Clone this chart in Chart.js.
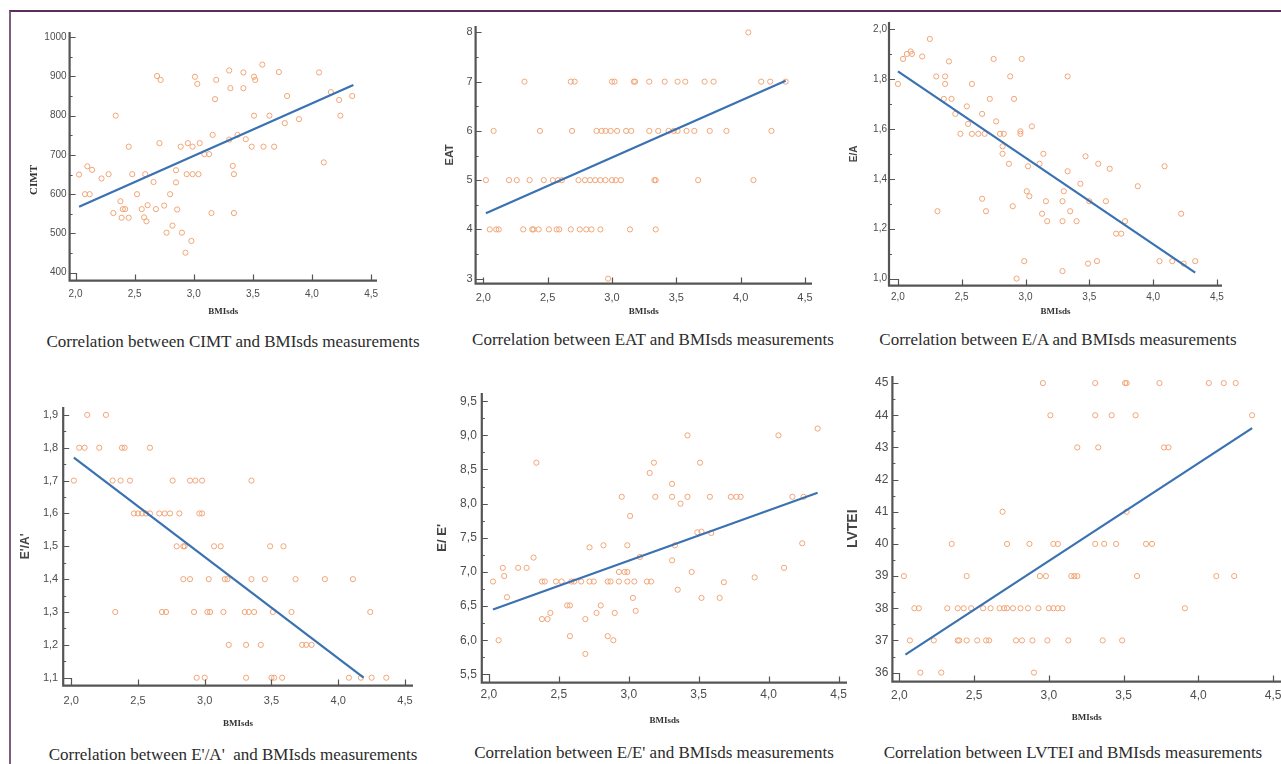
<!DOCTYPE html>
<html>
<head>
<meta charset="utf-8">
<title>BMIsds correlations</title>
<script src="https://cdn.jsdelivr.net/npm/chart.js"></script>
<style>
  body { margin: 0; background: #fff; }
  #page { position: relative; width: 1281px; height: 764px; overflow: hidden; background: #fff; }
  #frame { position: absolute; left: 9px; top: 10px; width: 1300px; height: 800px;
           border-top: 2px solid #5a2d5c; border-left: 2px solid #7d5c7f; }
  canvas { position: absolute; }
  .cap { position: absolute; width: 520px; line-height: 20px; text-align: center; white-space: pre;
         font-family: "Liberation Serif", "Times New Roman", serif; font-size: 17px; color: #2b2b2b; }
</style>
</head>
<body>
<div id="page"><div id="frame"></div></div>
<script>
// every panel has BMIsds on the x axis
const bmiTicks = [2.0, 2.5, 3.0, 3.5, 4.0, 4.5];

// CIMT vs BMIsds
const cimtBmi = [2.03,2.08,2.12,2.10,2.14,2.22,2.28,2.34,2.32,2.38,2.40,2.42,2.39,2.45,2.45,2.48,2.52,2.56,2.59,2.58,
  2.60,2.61,2.66,2.68,2.69,2.72,2.71,2.75,2.77,2.80,2.82,2.85,2.85,2.86,2.89,2.90,2.94,2.99,3.04,2.93,
  2.95,2.99,2.98,3.01,3.03,3.05,3.09,3.13,3.15,3.16,3.18,3.19,3.30,3.30,3.31,3.33,3.34,3.34,3.37,3.42,
  3.42,3.44,3.49,3.51,3.52,3.51,3.58,3.59,3.64,3.68,3.72,3.77,3.79,3.89,4.06,4.10,4.16,4.23,4.24,4.34];
const cimtVal = [650,600,600,671,662,640,651,800,552,582,562,562,540,540,721,651,600,562,651,541,
  531,572,631,562,901,891,730,571,502,600,520,630,661,561,721,502,651,651,651,451,
  730,721,481,899,881,730,702,702,552,751,842,891,739,915,870,672,651,552,751,910,
  870,740,721,899,891,800,930,721,800,721,911,781,850,791,910,681,860,840,800,850];
const cimtTicks = [400, 500, 600, 700, 800, 900, 1000];
const cimtFitX = [2.03, 4.35];
const cimtFitY = [568, 878];

// EAT vs BMIsds (values sit on whole numbers, listed per level)
const eatLevels = [8, 7, 6, 5, 4, 3];
const eatBmiByLevel = [
  [4.06],
  [2.32,2.68,2.71,3.00,3.02,3.17,3.18,3.29,3.41,3.51,3.57,3.72,3.79,4.16,4.23,4.35],
  [2.08,2.44,2.69,2.88,2.92,2.95,2.99,3.04,3.11,3.15,3.29,3.36,3.44,3.48,3.51,3.58,3.64,3.76,3.89,4.24],
  [2.02,2.20,2.26,2.36,2.47,2.54,2.58,2.61,2.74,2.79,2.83,2.87,2.91,2.95,3.00,3.03,3.07,3.33,3.34,3.67,4.10],
  [2.05,2.10,2.12,2.31,2.38,2.39,2.43,2.51,2.57,2.59,2.68,2.75,2.80,2.84,2.91,3.14,3.34],
  [2.97]
];
const eatTicks = [3, 4, 5, 6, 7, 8];
const eatFitX = [2.02, 4.35];
const eatFitY = [4.33, 7.02];

// E/A vs BMIsds
const eaBmi = [2.00,2.04,2.07,2.10,2.11,2.19,2.25,2.30,2.31,2.37,2.37,2.36,2.40,2.42,2.45,2.49,2.54,2.55,2.58,2.58,
  2.63,2.68,2.66,2.66,2.69,2.72,2.75,2.77,2.80,2.83,2.82,2.82,2.87,2.88,2.90,2.91,2.93,2.96,2.96,2.97,
  2.99,3.01,3.03,3.02,3.05,3.11,3.13,3.14,3.16,3.17,3.29,3.30,3.29,3.29,3.33,3.33,3.35,3.40,3.43,3.47,
  3.49,3.50,3.56,3.57,3.63,3.66,3.71,3.75,3.78,3.88,4.05,4.09,4.15,4.22,4.24,4.33];
const eaVal = [1.78,1.88,1.90,1.91,1.90,1.89,1.96,1.81,1.27,1.81,1.78,1.72,1.87,1.72,1.66,1.58,1.69,1.62,1.78,1.58,
  1.58,1.58,1.66,1.32,1.27,1.72,1.88,1.63,1.58,1.58,1.53,1.50,1.46,1.81,1.29,1.72,1.00,1.59,1.58,1.88,
  1.07,1.35,1.33,1.45,1.61,1.46,1.26,1.50,1.31,1.23,1.31,1.35,1.23,1.03,1.43,1.81,1.27,1.23,1.38,1.49,
  1.06,1.31,1.07,1.46,1.31,1.44,1.18,1.18,1.23,1.37,1.07,1.45,1.07,1.26,1.06,1.07];
const eaTicks = [1.0, 1.2, 1.4, 1.6, 1.8, 2.0];
const eaFitX = [2.00, 4.33];
const eaFitY = [1.83, 1.024];

// E'/A' vs BMIsds (listed per level)
const epapLevels = [1.9, 1.8, 1.7, 1.6, 1.5, 1.4, 1.3, 1.2, 1.1];
const epapBmiByLevel = [
  [2.12,2.26],
  [2.06,2.10,2.21,2.38,2.40,2.59],
  [2.02,2.31,2.37,2.44,2.76,2.89,2.93,2.98,3.35],
  [2.47,2.50,2.53,2.56,2.59,2.66,2.70,2.74,2.81,2.96,2.98],
  [2.79,2.84,2.85,3.07,3.12,3.49,3.59],
  [2.84,2.89,3.03,3.15,3.17,3.35,3.45,3.68,3.90,4.11],
  [2.33,2.68,2.71,2.92,3.02,3.04,3.14,3.30,3.33,3.37,3.51,3.65,4.24],
  [3.18,3.31,3.42,3.73,3.76,3.80],
  [2.94,3.00,3.31,3.50,3.52,3.58,4.08,4.17,4.25,4.36]
];
const epapTicks = [1.1, 1.2, 1.3, 1.4, 1.5, 1.6, 1.7, 1.8, 1.9];
const epapFitX = [2.02, 4.19];
const epapFitY = [1.77, 1.10];

// E/E' vs BMIsds
const eeBmi = [2.03,2.07,2.10,2.11,2.13,2.21,2.27,2.32,2.34,2.38,2.40,2.38,2.42,2.44,2.48,2.52,2.56,2.58,2.58,2.59,
  2.61,2.66,2.69,2.69,2.72,2.72,2.75,2.77,2.80,2.82,2.85,2.85,2.87,2.89,2.90,2.93,2.93,2.95,2.97,2.99,
  2.99,2.99,3.01,3.03,3.04,3.05,3.08,3.13,3.16,3.15,3.18,3.19,3.31,3.31,3.31,3.33,3.35,3.37,3.42,3.42,
  3.45,3.49,3.52,3.51,3.52,3.58,3.59,3.65,3.68,3.73,3.77,3.80,3.90,4.07,4.11,4.17,4.24,4.25,4.35];
const eeVal = [6.86,6.00,7.06,6.94,6.63,7.06,7.06,7.21,8.60,6.86,6.86,6.31,6.31,6.40,6.86,6.86,6.51,6.51,6.06,6.86,
  6.86,6.86,6.31,5.80,7.36,6.86,6.86,6.40,6.51,7.39,6.06,6.86,6.86,6.00,6.40,7.00,6.86,8.10,7.00,7.00,
  7.39,6.86,7.82,6.62,6.86,6.43,7.22,6.86,6.86,8.45,8.60,8.10,8.29,8.10,7.17,7.39,6.74,8.00,9.00,8.10,
  7.00,7.58,7.59,8.60,6.62,8.10,7.57,6.62,6.85,8.10,8.10,8.10,6.92,9.00,7.06,8.10,7.42,8.10,9.10];
const eeTicks = [5.5, 6.0, 6.5, 7.0, 7.5, 8.0, 8.5, 9.0, 9.5];
const eeFitX = [2.03, 4.35];
const eeFitY = [6.45, 8.16];

// LVTEI vs BMIsds (listed per level)
const lvteiLevels = [45, 44, 43, 41, 40, 39, 38, 37, 36];
const lvteiBmiByLevel = [
  [2.96,3.31,3.51,3.52,3.74,4.07,4.17,4.25],
  [3.01,3.31,3.42,3.58,4.36],
  [3.19,3.33,3.77,3.80],
  [2.69,3.52],
  [2.35,2.72,2.87,3.03,3.06,3.31,3.37,3.45,3.65,3.69],
  [2.03,2.45,2.94,2.98,3.15,3.17,3.19,3.59,4.12,4.24],
  [2.10,2.13,2.32,2.39,2.43,2.48,2.56,2.61,2.67,2.70,2.72,2.76,2.81,2.86,2.93,3.00,3.03,3.06,3.09,3.91],
  [2.07,2.23,2.39,2.40,2.45,2.52,2.58,2.60,2.78,2.82,2.89,2.99,3.13,3.36,3.49],
  [2.14,2.28,2.90]
];
const lvteiTicks = [36, 37, 38, 39, 40, 41, 42, 43, 44, 45];
const lvteiFitX = [2.04, 4.36];
const lvteiFitY = [36.56, 43.6];

function pairs(xs, ys) { return xs.map((x, i) => ({ x: x, y: ys[i] })); }
function byLevel(levels, rows) { return levels.flatMap((lv, i) => rows[i].map(x => ({ x: x, y: lv }))); }
function fmt(v, dec) { return dec === 0 ? String(Math.round(v)) : v.toFixed(dec).replace('.', ','); }

const SERIF = '"Liberation Serif", "Times New Roman", serif';
const SANS = '"Liberation Sans", Arial, sans-serif';

const panels = [
  // CIMT label sits lower than the axis middle in the original, so it is drawn by the plugin (titleY)
  { title: 'CIMT', tFont: { family: SERIF, size: 11, weight: 'bold' }, tColor: '#333', titleY: 180,
    caption: 'Correlation between CIMT and BMIsds measurements', capX: 233, capY: 342,
    area: { l: 70, t: 32, r: 377, b: 281 }, x: [1.95, 4.55], y: [380, 1013], yTicks: cimtTicks, dec: 0,
    tick: 10, yTitleX: 35, xTitleY: 312, xLabelY: 295, yPad: 3,
    pts: pairs(cimtBmi, cimtVal), fit: pairs(cimtFitX, cimtFitY) },
  { title: 'EAT', tFont: { family: SANS, size: 11, weight: 'bold' }, tColor: '#444',
    caption: 'Correlation between EAT and BMIsds measurements', capX: 653, capY: 340,
    area: { l: 476, t: 26, r: 812, b: 284 }, x: [1.94, 4.555], y: [2.9, 8.13], yTicks: eatTicks, dec: 0,
    tick: 11, yTitleX: 450, xTitleY: 312, xLabelY: 298, yPad: 3,
    pts: byLevel(eatLevels, eatBmiByLevel), fit: pairs(eatFitX, eatFitY) },
  { title: 'E/A', tFont: { family: SANS, size: 10, weight: 'bold' }, tColor: '#444',
    caption: 'Correlation between E/A and BMIsds measurements', capX: 1058, capY: 340,
    area: { l: 889, t: 22, r: 1222, b: 286 }, x: [1.93, 4.54], y: [0.972, 2.028], yTicks: eaTicks, dec: 1,
    tick: 10, yTitleX: 854, xTitleY: 312, xLabelY: 298, yPad: 2,
    pts: pairs(eaBmi, eaVal), fit: pairs(eaFitX, eaFitY) },
  { title: "E'/A'", tFont: { family: SANS, size: 12, weight: 'bold' }, tColor: '#444',
    caption: "Correlation between E'/A'  and BMIsds measurements", capX: 233, capY: 755,
    area: { l: 63, t: 407, r: 413, b: 686 }, x: [1.94, 4.56], y: [1.076, 1.924], yTicks: epapTicks, dec: 1,
    tick: 11, yTitleX: 25, xTitleY: 724, xLabelY: 701, yPad: 5,
    pts: byLevel(epapLevels, epapBmiByLevel), fit: pairs(epapFitX, epapFitY) },
  { title: "E/ E'", tFont: { family: SANS, size: 13, weight: 'bold' }, tColor: '#444',
    caption: "Correlation between E/E' and BMIsds measurements", capX: 654, capY: 753,
    area: { l: 482, t: 393, r: 847, b: 683 }, x: [1.95, 4.56], y: [5.38, 9.62], yTicks: eeTicks, dec: 1,
    tick: 12, yTitleX: 443, xTitleY: 721, xLabelY: 695, yPad: 5,
    pts: pairs(eeBmi, eeVal), fit: pairs(eeFitX, eeFitY) },
  { title: 'LVTEI', tFont: { family: SANS, size: 14, weight: 'bold' }, tColor: '#444',
    caption: 'Correlation between LVTEI and BMIsds measurements', capX: 1073, capY: 753,
    area: { l: 892, t: 376, r: 1281, b: 682 }, x: [1.953, 4.553], y: [35.72, 45.22], yTicks: lvteiTicks, dec: 0,
    tick: 12, yTitleX: 853, xTitleY: 718, xLabelY: 696, yPad: 4,
    pts: byLevel(lvteiLevels, lvteiBmiByLevel), fit: pairs(lvteiFitX, lvteiFitY) }
];

// SPSS-like axes: thick lines, inward ticks, minor ticks, the little box in the corner
const spssAxes = {
  id: 'spssAxes',
  afterDraw(chart) {
    const { ctx, chartArea: a, scales: { x, y } } = chart;
    const o = chart.options.plugins.spssAxes;
    const yt = o.yTicks;
    ctx.save();
    ctx.strokeStyle = '#555';
    ctx.lineWidth = 1.2;
    ctx.beginPath();
    yt.forEach((v, i) => {
      const py = Math.round(y.getPixelForValue(v)) + 0.5;
      ctx.moveTo(a.left, py); ctx.lineTo(a.left + 6, py);
      if (i < yt.length - 1) {
        const pm = Math.round(y.getPixelForValue((v + yt[i + 1]) / 2)) + 0.5;
        ctx.moveTo(a.left, pm); ctx.lineTo(a.left + 3, pm);
      }
    });
    bmiTicks.forEach(v => {
      const px = Math.round(x.getPixelForValue(v)) + 0.5;
      ctx.moveTo(px, a.bottom); ctx.lineTo(px, a.bottom - 6);
    });
    const x0 = Math.round(x.getPixelForValue(bmiTicks[0])) + 0.5;
    const y0 = Math.round(y.getPixelForValue(yt[0])) + 0.5;
    ctx.moveTo(a.left, y0); ctx.lineTo(x0, y0); ctx.lineTo(x0, a.bottom);
    ctx.stroke();
    ctx.lineWidth = 2.2;
    ctx.beginPath();
    ctx.moveTo(a.left, a.top); ctx.lineTo(a.left, a.bottom); ctx.lineTo(a.right, a.bottom);
    ctx.stroke();
    if (o.title) {
      const f = o.title.font;
      ctx.translate(o.title.x, o.title.y);
      ctx.rotate(-Math.PI / 2);
      ctx.font = `${f.weight} ${f.size}px ${f.family}`;
      ctx.fillStyle = o.title.color;
      ctx.textAlign = 'center';
      ctx.textBaseline = 'middle';
      ctx.fillText(o.title.text, 0, 0);
    }
    ctx.restore();
  }
};

const page = document.getElementById('page');

panels.forEach(p => {
  const a = p.area;
  const tLH = p.tFont.size * 1.2;
  const left = p.yTitleX - tLH / 2;
  const yw = a.l - left;
  const pt = 8, pr = 8;
  const xh = p.xTitleY - a.b + 9 * 1.2 / 2;
  const cv = document.createElement('canvas');
  cv.width = Math.round(a.r - a.l + yw + pr);
  cv.height = Math.round(a.b - a.t + pt + xh);
  cv.style.left = left + 'px';
  cv.style.top = (a.t - pt) + 'px';
  page.appendChild(cv);

  const cap = document.createElement('div');
  cap.className = 'cap';
  cap.textContent = p.caption;
  cap.style.left = (p.capX - 260) + 'px';
  cap.style.top = (p.capY - 10) + 'px';
  page.appendChild(cap);

  const ownTitle = p.titleY !== undefined;
  new Chart(cv, {
    type: 'scatter',
    data: {
      datasets: [
        { type: 'line', data: p.fit, borderColor: '#3a71b1', borderWidth: 2.2, pointRadius: 0, fill: false },
        { data: p.pts, pointStyle: 'circle', pointRadius: 2.6, borderWidth: 1,
          borderColor: '#f2a576', backgroundColor: 'rgba(0,0,0,0)' }
      ]
    },
    options: {
      responsive: false, animation: false, devicePixelRatio: 1,
      layout: { padding: { top: pt, right: pr, left: 0, bottom: 0 } },
      plugins: {
        legend: { display: false }, tooltip: { enabled: false },
        spssAxes: {
          yTicks: p.yTicks,
          title: ownTitle ? { text: p.title, font: p.tFont, color: p.tColor,
                              x: tLH / 2, y: p.titleY - a.t + pt } : null
        }
      },
      scales: {
        x: {
          type: 'linear', min: p.x[0], max: p.x[1],
          grid: { display: false, drawTicks: false }, border: { display: false },
          afterBuildTicks: s => { s.ticks = bmiTicks.map(v => ({ value: v })); },
          afterFit: s => { s.height = xh; s.paddingLeft = 0; s.paddingRight = 0; },
          ticks: { autoSkip: false, maxRotation: 0, color: '#4d4d4d', font: { family: SANS, size: p.tick },
                   padding: p.xLabelY - a.b - p.tick * 1.2 / 2, callback: v => fmt(v, 1) },
          title: { display: true, text: 'BMIsds', color: '#333', padding: 0,
                   font: { family: SERIF, size: 9, weight: 'bold' } }
        },
        y: {
          type: 'linear', min: p.y[0], max: p.y[1],
          grid: { display: false, drawTicks: false }, border: { display: false },
          afterBuildTicks: s => { s.ticks = p.yTicks.map(v => ({ value: v })); },
          afterFit: s => { s.width = yw; s.paddingTop = 0; s.paddingBottom = 0; },
          ticks: { autoSkip: false, color: '#4d4d4d', font: { family: SANS, size: p.tick },
                   padding: p.yPad, callback: v => fmt(v, p.dec) },
          title: { display: !ownTitle, text: p.title, color: p.tColor, padding: 0, font: p.tFont }
        }
      }
    },
    plugins: [spssAxes]
  });
});
</script>
</body>
</html>
